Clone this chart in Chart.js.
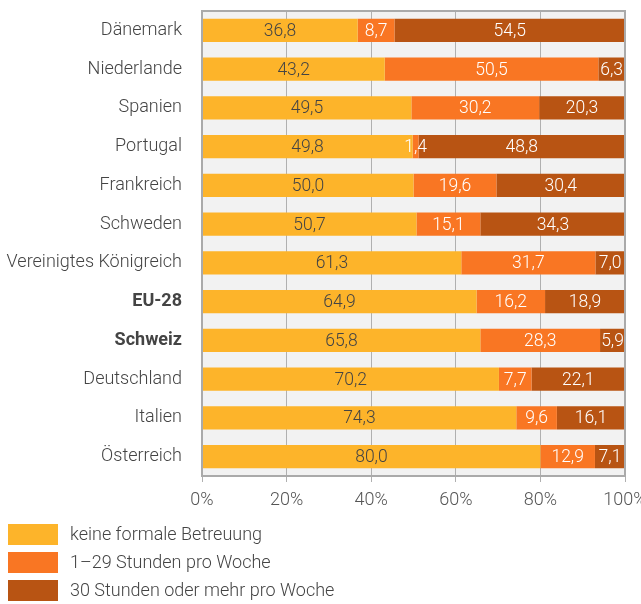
<!DOCTYPE html>
<html><head><meta charset="utf-8">
<script src="https://cdn.jsdelivr.net/npm/chart.js@4/dist/chart.umd.min.js"></script>
<style>html,body{margin:0;padding:0;background:#fff;}#wrap{width:641px;height:604px;position:relative;}</style>
</head><body><div id="wrap"><canvas id="c" width="641" height="604"></canvas></div>
<script>
const categories = ["Dänemark","Niederlande","Spanien","Portugal","Frankreich","Schweden","Vereinigtes Königreich","EU-28","Schweiz","Deutschland","Italien","Österreich"];
const seriesNames = ["keine formale Betreuung","1–29 Stunden pro Woche","30 Stunden oder mehr pro Woche"];
const keineBetreuung = [36.8,43.2,49.5,49.8,50.0,50.7,61.3,64.9,65.8,70.2,74.3,80.0];
const stunden1bis29 = [8.7,50.5,30.2,1.4,19.6,15.1,31.7,16.2,28.3,7.7,9.6,12.9];
const stunden30plus = [54.5,6.3,20.3,48.8,30.4,34.3,7.0,18.9,5.9,22.1,16.1,7.1];
const xTicks = [0,20,40,60,80,100];
const boldCategories = ["EU-28","Schweiz"];

const colors = ["#FDB42A","#F97623","#B85413"];
const labelColors = ["#444444","#ffffff","#ffffff"];
const FONT = "Roboto";

const bgPlugin = {
  id:'bg',
  beforeDraw(chart){
    const {ctx, chartArea:a} = chart;
    ctx.save(); ctx.fillStyle="#f2f2f2";
    ctx.fillRect(a.left,a.top,a.right-a.left,a.bottom-a.top); ctx.restore();
  },
  afterDatasetsDraw(chart){
    const {ctx, chartArea:a} = chart;
    ctx.save();
    chart.data.datasets.forEach((ds,di)=>{
      const meta = chart.getDatasetMeta(di);
      meta.data.forEach((bar,i)=>{
        const v = ds.data[i];
        const cx = (bar.x + bar.base)/2;
        ctx.font = "300 17.5px "+FONT;
        ctx.fillStyle = labelColors[di];
        ctx.textAlign="center"; ctx.textBaseline="middle";
        ctx.fillText(v.toFixed(1).replace('.',','), cx, bar.y+1);
      });
    });
    ctx.strokeStyle="#aaaaaa"; ctx.lineWidth=2;
    ctx.strokeRect(a.left,a.top,a.right-a.left,a.bottom-a.top);
    ctx.restore();
  },
  afterDraw(chart){
    const ctx = chart.ctx;
    ctx.save();
    const ys=[524,552,580];
    seriesNames.forEach((n,i)=>{
      ctx.fillStyle=colors[i];
      ctx.fillRect(8,ys[i],50,21);
      ctx.fillStyle="#444";
      ctx.font="300 18px "+FONT;
      ctx.textAlign="left"; ctx.textBaseline="middle";
      ctx.fillText(n,70,ys[i]+11);
    });
    ctx.restore();
  }
};

new Chart(document.getElementById('c'),{
  type:'bar',
  data:{
    labels:categories,
    datasets:[keineBetreuung,stunden1bis29,stunden30plus].map((d,i)=>({
      label:seriesNames[i], data:d, backgroundColor:colors[i], borderWidth:0,
      categoryPercentage:1, barPercentage:0.6
    }))
  },
  options:{
    indexAxis:'y', responsive:false, animation:false,
    layout:{padding:{left:0,right:16,top:11,bottom:88}},
    plugins:{legend:{display:false},tooltip:{enabled:false}},
    scales:{
      x:{
        stacked:true, min:0, max:100,
        afterBuildTicks(s){ s.ticks = xTicks.map(v=>({value:v})); },
        afterFit(s){ s.height=40; s.paddingLeft=0; s.paddingRight=0; },
        grid:{color:"#b0b0b0", lineWidth:1, tickLength:6, drawOnChartArea:true},
        border:{display:false},
        ticks:{font:{family:FONT,size:18,weight:'300'},color:"#555",padding:8,
          callback:v=>v+"%", maxRotation:0}
      },
      y:{
        stacked:true,
        afterFit(s){ s.width=202; s.paddingTop=0; s.paddingBottom=0; },
        grid:{display:false},
        border:{display:false},
        ticks:{
          color:"#444", padding:12,
          font:(ctx)=>({family:FONT,size:18,weight: boldCategories.includes(categories[ctx.index])?'bold':'300'})
        }
      }
    }
  },
  plugins:[bgPlugin]
});
</script></body></html>
